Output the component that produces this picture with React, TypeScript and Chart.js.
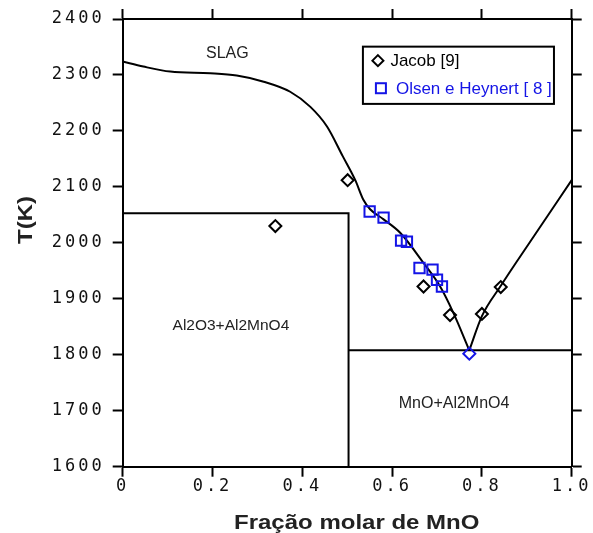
import React, { useEffect, useRef } from 'react';
import { Chart, registerables } from 'chart.js';

Chart.register(...registerables);

// ---- Axis ticks ----
const xTickValues = [0, 0.2, 0.4, 0.6, 0.8, 1.0];
const xTickLabels = ['0', '0.2', '0.4', '0.6', '0.8', '1.0'];
const yTickValues = [1600, 1700, 1800, 1900, 2000, 2100, 2200, 2300, 2400];
const yTickLabels = ['1600', '1700', '1800', '1900', '2000', '2100', '2200', '2300', '2400'];

const xTitle = 'Fração molar de MnO';
const yTitle = 'T(K)';

// ---- Liquidus (calculated curve) ----
const liquidusLeftX = [0, 0.046, 0.106, 0.195, 0.254, 0.314, 0.373, 0.418, 0.455, 0.49, 0.518, 0.536, 0.551, 0.581, 0.618, 0.67, 0.707, 0.737, 0.772];
const liquidusLeftT = [2324, 2315, 2306, 2303, 2299, 2288, 2270, 2243, 2208, 2155, 2112, 2077, 2060, 2042, 2018, 1964, 1922, 1874, 1808];
const liquidusRightX = [0.772, 0.8, 0.841, 0.915, 1.0];
const liquidusRightT = [1808, 1869, 1922, 2011, 2112];

// ---- Phase boundaries ----
const peritecticX = [0, 0.503, 0.503];
const peritecticT = [2053, 2053, 1600];
const eutecticX = [0.503, 1.0];
const eutecticT = [1808, 1808];

// ---- Experimental data ----
const jacobX = [0.34, 0.501, 0.67, 0.729, 0.8, 0.842];
const jacobT = [2030, 2112, 1922, 1871, 1873, 1921];
const olsenX = [0.55, 0.581, 0.62, 0.633, 0.661, 0.69, 0.7, 0.711];
const olsenT = [2056, 2045, 2004, 2002, 1955, 1952, 1934, 1922];
const olsenEutX = [0.772];
const olsenEutT = [1802];

const jacobLabel = 'Jacob [9]';
const olsenLabel = 'Olsen e Heynert [ 8 ]';

// ---- Region labels ----
const regionLabels = ['SLAG', 'Al2O3+Al2MnO4', 'MnO+Al2MnO4'];
const regionX = [0.233, 0.241, 0.738];
const regionT = [2339, 1852, 1713];

const BLUE = '#1414e6';

const toPts = (xs: number[], ys: number[]) => xs.map((x, i) => ({ x, y: ys[i] }));

export default function App() {
  const ref = useRef<HTMLCanvasElement | null>(null);

  useEffect(() => {
    const canvas = ref.current;
    if (!canvas) return;

    const lineStyle = {
      type: 'line' as const,
      showLine: true,
      borderColor: '#000',
      borderWidth: 2,
      pointRadius: 0,
      fill: false,
      xAxisID: 'x',
      yAxisID: 'y',
    };

    const patchLabels = {
      id: 'patchLabels',
      afterLayout(chart: any) {
        for (const id of ['x', 'y']) {
          const s: any = chart.scales[id];
          if (s && !s.__patched) {
            const orig = s.drawLabels.bind(s);
            s.drawLabels = (area: any) => {
              const ctx = chart.ctx;
              ctx.save();
              ctx.letterSpacing = '3px';
              orig(area);
              ctx.restore();
            };
            s.__patched = true;
          }
        }
      },
    };

    const overlay = {
      id: 'overlay',
      afterDraw(chart: any) {
        const ctx = chart.ctx;
        const xs = chart.scales.x;
        const ys = chart.scales.y;
        const area = chart.chartArea;

        // region labels
        ctx.save();
        ctx.fillStyle = '#222';
        ctx.textAlign = 'center';
        ctx.textBaseline = 'middle';
        const sizes = [16, 15.5, 16];
        regionLabels.forEach((t, i) => {
          ctx.font = `${sizes[i]}px "Liberation Sans", Arial, sans-serif`;
          ctx.fillText(t, xs.getPixelForValue(regionX[i]), ys.getPixelForValue(regionT[i]));
        });
        ctx.restore();

        // legend box
        const bx0 = xs.getPixelForValue(0.535);
        const bx1 = xs.getPixelForValue(0.9605);
        const by0 = ys.getPixelForValue(2350.6);
        const by1 = ys.getPixelForValue(2248.3);
        ctx.save();
        ctx.fillStyle = '#fff';
        ctx.fillRect(bx0, by0, bx1 - bx0, by1 - by0);
        ctx.strokeStyle = '#000';
        ctx.lineWidth = 2;
        ctx.strokeRect(bx0, by0, bx1 - bx0, by1 - by0);
        const r1 = ys.getPixelForValue(2325.6);
        const r2 = ys.getPixelForValue(2276.3);
        // diamond
        const dx = bx0 + 15;
        ctx.lineWidth = 2;
        ctx.beginPath();
        ctx.moveTo(dx, r1 - 5.5);
        ctx.lineTo(dx + 5.5, r1);
        ctx.lineTo(dx, r1 + 5.5);
        ctx.lineTo(dx - 5.5, r1);
        ctx.closePath();
        ctx.stroke();
        // square
        ctx.strokeStyle = BLUE;
        ctx.strokeRect(bx0 + 13, r2 - 5, 10, 10);
        ctx.font = '17px "Liberation Sans", Arial, sans-serif';
        ctx.textAlign = 'left';
        ctx.textBaseline = 'middle';
        ctx.fillStyle = '#000';
        ctx.fillText(jacobLabel, bx0 + 27.5, r1 + 1);
        ctx.fillStyle = BLUE;
        ctx.fillText(olsenLabel, bx0 + 33, r2 + 1);
        ctx.restore();

        // axis titles
        ctx.save();
        ctx.fillStyle = '#222';
        ctx.font = 'bold 20px "Liberation Sans", Arial, sans-serif';
        ctx.textAlign = 'center';
        ctx.textBaseline = 'alphabetic';
        ctx.translate((area.left + area.right) / 2 + 9.5, area.bottom + 61.8);
        ctx.scale(1.2, 1);
        ctx.fillText(xTitle, 0, 0);
        ctx.restore();

        ctx.save();
        ctx.fillStyle = '#222';
        ctx.font = 'bold 20px "Liberation Sans", Arial, sans-serif';
        ctx.textAlign = 'center';
        ctx.textBaseline = 'alphabetic';
        ctx.translate(area.left - 91, area.top + 201);
        ctx.rotate(-Math.PI / 2);
        ctx.scale(1.2, 1);
        ctx.fillText(yTitle, 0, 0);
        ctx.restore();
      },
    };

    const tickFont = { family: '"DejaVu Sans Mono", monospace', size: 17 };
    const gridOpts = {
      display: true,
      drawOnChartArea: false,
      drawTicks: true,
      tickLength: 10,
      tickColor: '#000',
      tickWidth: 2,
      color: '#000',
    };
    const borderOpts = { display: true, color: '#000', width: 2 };

    const chart = new Chart(canvas, {
      type: 'scatter',
      data: {
        datasets: [
          {
            label: olsenLabel,
            data: toPts(olsenEutX, olsenEutT),
            pointStyle: 'rectRot',
            pointRadius: 6,
            borderColor: BLUE,
            backgroundColor: 'rgba(0,0,0,0)',
            borderWidth: 2,
            xAxisID: 'x',
            yAxisID: 'y',
          } as any,
          {
            label: olsenLabel,
            data: toPts(olsenX, olsenT),
            pointStyle: 'rect',
            pointRadius: 7.3,
            borderColor: BLUE,
            backgroundColor: 'rgba(0,0,0,0)',
            borderWidth: 2,
            xAxisID: 'x',
            yAxisID: 'y',
          },
          {
            label: jacobLabel,
            data: toPts(jacobX, jacobT),
            pointStyle: 'rectRot',
            pointRadius: 6,
            borderColor: '#000',
            backgroundColor: 'rgba(0,0,0,0)',
            borderWidth: 2,
            xAxisID: 'x',
            yAxisID: 'y',
          },
          { ...lineStyle, label: 'liq-left', data: toPts(liquidusLeftX, liquidusLeftT), cubicInterpolationMode: 'monotone' } as any,
          { ...lineStyle, label: 'liq-right', data: toPts(liquidusRightX, liquidusRightT), cubicInterpolationMode: 'monotone' } as any,
          { ...lineStyle, label: 'peritectic', data: toPts(peritecticX, peritecticT), tension: 0 } as any,
          { ...lineStyle, label: 'eutectic', data: toPts(eutecticX, eutecticT), tension: 0 } as any,
        ],
      },
      options: {
        responsive: false,
        maintainAspectRatio: false,
        animation: false,
        devicePixelRatio: 1,
        layout: { padding: 0 },
        plugins: {
          legend: { display: false },
          tooltip: { enabled: false },
          title: { display: false },
        },
        scales: {
          x: {
            type: 'linear',
            position: 'bottom',
            min: 0,
            max: 1,
            afterBuildTicks: (s: any) => {
              s.ticks = xTickValues.map((v) => ({ value: v }));
            },
            afterFit: (s: any) => {
              s.height = 66.3;
            },
            ticks: {
              color: '#111',
              font: tickFont,
              padding: 0,
              maxRotation: 0,
              autoSkip: false,
              callback: (_v: any, i: number) => xTickLabels[i],
            },
            grid: gridOpts,
            border: borderOpts,
          },
          y: {
            type: 'linear',
            position: 'left',
            min: 1600,
            max: 2400,
            afterBuildTicks: (s: any) => {
              s.ticks = yTickValues.map((v) => ({ value: v }));
            },
            afterFit: (s: any) => {
              s.width = 122.7;
            },
            ticks: {
              color: '#111',
              font: tickFont,
              padding: 8,
              autoSkip: false,
              callback: (_v: any, i: number) => yTickLabels[i],
            },
            grid: gridOpts,
            border: borderOpts,
          },
          x2: {
            type: 'linear',
            axis: 'x',
            position: 'top',
            min: 0,
            max: 1,
            afterBuildTicks: (s: any) => {
              s.ticks = xTickValues.map((v) => ({ value: v }));
            },
            afterFit: (s: any) => {
              s.height = 19;
            },
            ticks: { display: false },
            grid: gridOpts,
            border: borderOpts,
          },
          y2: {
            type: 'linear',
            axis: 'y',
            position: 'right',
            min: 1600,
            max: 2400,
            afterBuildTicks: (s: any) => {
              s.ticks = yTickValues.map((v) => ({ value: v }));
            },
            afterFit: (s: any) => {
              s.width = 21.3;
            },
            ticks: { display: false },
            grid: gridOpts,
            border: borderOpts,
          },
        } as any,
      },
      plugins: [patchLabels, overlay],
    });

    return () => chart.destroy();
  }, []);

  return (
    <div style={{ position: 'fixed', left: 0, top: 0, width: 593, height: 533, background: '#fff' }}>
      <canvas ref={ref} width={593} height={533} style={{ display: 'block', width: 593, height: 533 }} />
    </div>
  );
}
